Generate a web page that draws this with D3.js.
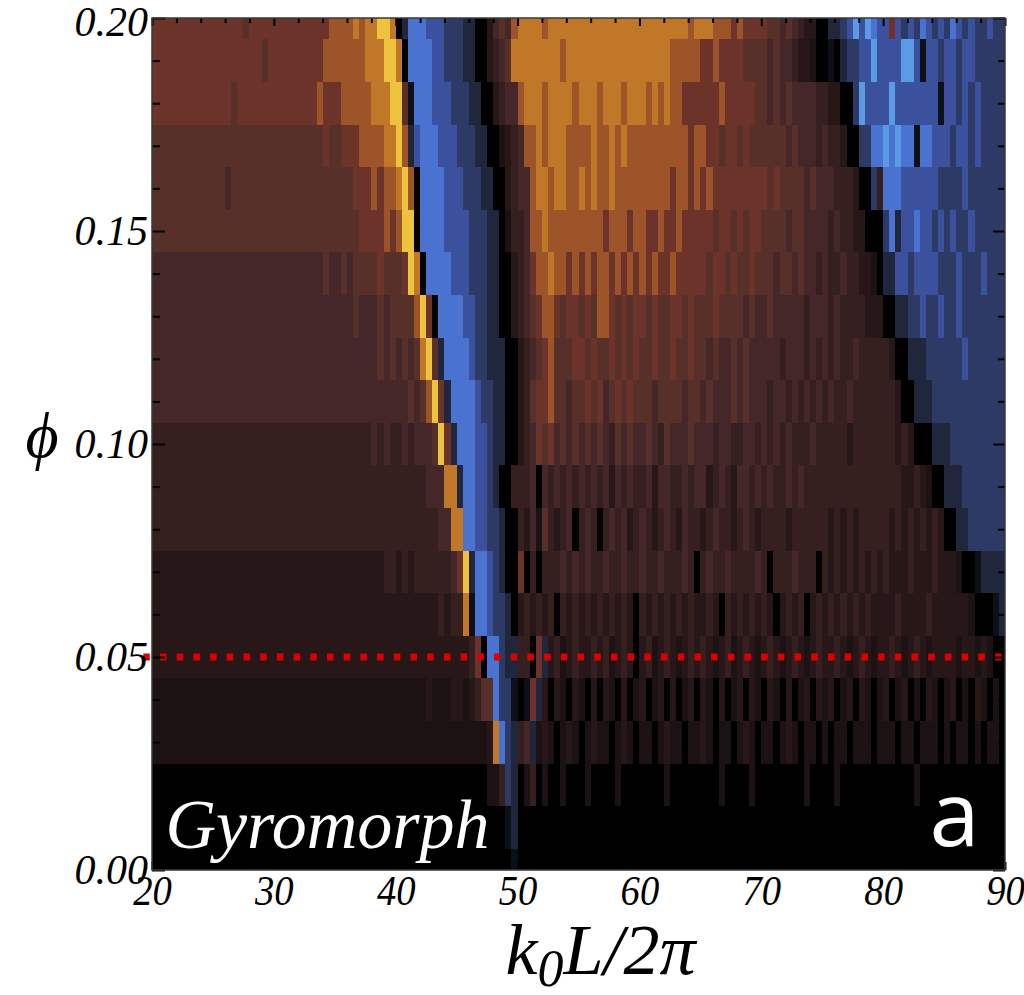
<!DOCTYPE html>
<html>
<head>
<meta charset="utf-8">
<script src="https://d3js.org/d3.v7.min.js"></script>
<style>
  html, body { margin: 0; background: #fff; }
  .narrow { transform-box: fill-box; transform-origin: 50% 50%; transform: scaleX(0.92); }
</style>
</head>
<body>
<svg id="chart" width="1024" height="995"></svg>
<script>
// phi of each row, top row first (each row is centred on its phi value)
const phiValues = [0.20, 0.19, 0.18, 0.17, 0.16, 0.15, 0.14, 0.13, 0.12, 0.11, 0.10,
                   0.09, 0.08, 0.07, 0.06, 0.05, 0.04, 0.03, 0.02, 0.01, 0.00];
// k0L/2pi of the first column, and column width
const kStart = 20;
const kStep = 0.5;
// levels, one char per column (groups of 5 units of k)
// 0 = black, 1..9 = brown -> orange -> yellow, a..f = navy -> light blue
const cellRows = [
  "6666666666 6666656666 6666666667 7778788998 0beeedddcc cbb0024547 8888788888 8888888888 8888888878 8877767666 6554543220 0bbcdfdfed d6dcdcedcd cedcdccdcc",
  "6666666666 6666666656 6666666677 7777788899 80eeeeddcc cbb0023458 8888888788 8888888888 8888877777 6676666555 5454432210 0a0bccddfd dddffdaddc ddcddccccc",
  "6666666666 6665666666 6666666766 6777778889 95aeeedddc ccbb002344 7888788887 8887888788 8787877666 6667666665 5454544443 32200cfddd dfddddddda ddcdcdcccc",
  "5555555555 5555555555 5555555565 5666777788 97bdeeeddd cccbb00123 4778788877 7787787877 7777777767 7665665655 5555454443 433200ccee fefeeaeedd dcddcdcccc",
  "5555555555 5545555555 5555555555 5556667677 8970eeeedd dcccbb0023 4478878877 8787787777 7777767767 6766666666 6565555454 44333200c3 eeeddddddc cccdcccccc",
  "5555555555 5555555555 5555555555 5555666676 7990eeeedd ddcccbb013 3477877777 7777677767 7667667666 6656656566 5555455444 4343322000 cebddeddcd cdccdccccc",
  "4444444444 4444444444 4444444454 4545555655 56980eeeed ddcccbb002 3467787767 6767767676 7676676666 6566565565 5545545443 4334332210 bbddcddddc ccdcccdccc",
  "4444444444 4444444444 4444444444 4445444545 5557960eee eddccbb002 3456776566 5657765656 6565566565 5565555454 4544444344 4343333222 00bbccdccd ccdccccccc",
  "4444444444 4444444444 4444444444 4444444545 4545895bee eedccbbb00 2345675556 6565565656 5565565565 5454454544 4443444343 4343343333 3200bbbccc cccdcccccc",
  "4444444444 4444444444 4444444444 4444444444 44545796be eeedccbb00 2356675545 5656456565 5545555455 4544454544 4344343434 3433433333 33200bbbcc cccccccccc",
  "3333333333 3333333333 3333333333 3333334343 343444596b eeeddcbb00 2346564545 4545435454 4543544454 4434433443 4343433343 3333233333 33232000bb bccccccccc",
  "3333333333 3333333333 3333333333 3333333333 3333344488 beeddcb003 3340434343 4343424343 3424433434 4234324434 3433434333 3333333333 3332232100 bbbccccccc",
  "3333333333 3333333333 3333333333 3333333333 3333333448 8eeddccb00 3241532340 3430343423 4323432433 2343323432 3333233333 3232323333 3232323232 00bbcccccc",
  "2222222222 2222222222 2222222222 2222222233 2323333334 69beedcb00 6030333434 3433433433 4334333430 3433433334 3033343330 3232323232 3222322232 22100abbbb",
  "2222222222 2222222222 2222222222 2222222222 2222222323 38aeedccb0 2323230323 2323232320 3232323232 2320323232 3202323023 2323232322 2232222322 22221000ab",
  "2222222222 2222222222 2222222222 2222222222 2222222222 22360eecbb 3306b23123 2232312320 2312321232 3212312321 2321232123 2232123212 2321232122 2212212100",
  "1111111111 1111111111 1111111111 1111111111 1111121112 212355ecca 0a6b202102 1020210201 2012020120 2102012021 0210201202 1201202101 2012010210 1201021010",
  "1111111111 1111111111 1111111111 1111111111 1111111111 1111128ecb 34b1210121 0121101210 1101211011 2101101210 1101210110 1011011101 1101101110 1011010110",
  "0000000000 0000000000 0000000000 0000000000 0000000000 00000113cb 0130100100 0100001000 0000100000 0001000010 0000000100 0010000000 0000010000 0000000000",
  "0000000000 0000000000 0000000000 0000000000 0000000000 00000000ab 0000000000 0000000000 0000000000 0000000000 0000000000 0000000000 0000000000 0000000000",
  "0000000000 0000000000 0000000000 0000000000 0000000000 000000000a 0000000000 0000000000 0000000000 0000000000 0000000000 0000000000 0000000000 0000000000"
];
const xTicks = [20, 30, 40, 50, 60, 70, 80, 90];
const yTicks = [0.00, 0.05, 0.10, 0.15, 0.20];
const markerPhi = 0.05;
const panelName = "Gyromorph";
const panelLetter = "a";

// colour map: negative = blue side, positive = orange side
const colorDomain = [-6, -5, -4, -3, -2, -1, 0, 1, 2, 3, 4, 5, 6, 7, 8, 9];
const colorRange = ['#5b9be6', '#4a72d0', '#3b519e', '#2e3a66', '#20263c', '#0e1018', '#000000',
                    '#1c1113', '#281719', '#35201f', '#45272a', '#573029', '#6b3329', '#9c5428', '#c07828', '#edc23d'];
const color = d3.scaleLinear().domain(colorDomain).range(colorRange);

const serif = '"Liberation Serif", "Times New Roman", serif';

function level(ch) {
  if (ch >= '0' && ch <= '9') return +ch;
  return -('abcdef'.indexOf(ch) + 1);
}

const svg = d3.select('#chart');
const plot = { left: 152, right: 1005, top: 18, bottom: 870 };

const x = d3.scaleLinear().domain([20, 90]).range([plot.left, plot.right]);
const y = d3.scaleLinear().domain([0, 0.2]).range([plot.bottom, plot.top]);
const halfRow = 0.005;

const cells = [];
cellRows.forEach((row, i) => {
  row.replace(/ /g, '').split('').forEach((ch, j) => {
    cells.push({ phi: phiValues[i], k: kStart + j * kStep, v: level(ch) });
  });
});

svg.append('clipPath').attr('id', 'plotClip')
  .append('rect')
  .attr('x', plot.left).attr('y', plot.top)
  .attr('width', plot.right - plot.left).attr('height', plot.bottom - plot.top);

svg.append('g')
  .attr('clip-path', 'url(#plotClip)')
  .attr('shape-rendering', 'crispEdges')
  .selectAll('rect')
  .data(cells)
  .join('rect')
    .attr('x', d => x(d.k))
    .attr('y', d => y(d.phi + halfRow))
    .attr('width', d => x(d.k + kStep) - x(d.k) + 0.6)
    .attr('height', d => y(d.phi - halfRow) - y(d.phi + halfRow) + 0.6)
    .attr('fill', d => color(d.v));

// red dotted marker line
svg.append('line')
  .attr('x1', x(20) - 8.7).attr('x2', x(90))
  .attr('y1', y(markerPhi)).attr('y2', y(markerPhi))
  .attr('stroke', '#dd0000')
  .attr('stroke-width', 7)
  .attr('stroke-dasharray', '6.5,10.2');

// panel labels
svg.append('text')
  .attr('x', x(21.1)).attr('y', 848)
  .attr('fill', '#fff')
  .attr('font-size', 70)
  .attr('font-style', 'italic')
  .style('font-family', serif)
  .text(panelName);

svg.append('text')
  .attr('x', x(87.9)).attr('y', 846)
  .attr('fill', '#fff')
  .attr('font-size', 90)
  .attr('text-anchor', 'end')
  .style('font-family', '"Open Sans", "DejaVu Sans", sans-serif')
  .text(panelLetter);

// ticks, drawn inside the frame on all four sides
function tickLayer(axis, transform, cls) {
  const g = svg.append('g').attr('transform', transform).call(axis);
  g.select('.domain').remove();
  g.selectAll('line').attr('stroke', '#000').attr('stroke-width', 2);
  g.selectAll('text')
    .attr('class', cls || null)
    .attr('font-size', 42)
    .attr('font-style', 'italic')
    .style('font-family', serif)
    .attr('fill', '#000');
  return g;
}

const xMinor = d3.range(20, 90.01, 2).filter(v => v % 10 !== 0);
const yMinor = d3.range(0, 0.2001, 0.01).filter((v, i) => i % 5 !== 0);

tickLayer(d3.axisBottom(x).tickValues(xMinor).tickSize(-5).tickFormat(''), `translate(0,${plot.bottom})`);
tickLayer(d3.axisTop(x).tickValues(xMinor).tickSize(-5).tickFormat(''), `translate(0,${plot.top})`);
tickLayer(d3.axisTop(x).tickValues(xTicks).tickSize(-8).tickFormat(''), `translate(0,${plot.top})`);
tickLayer(d3.axisBottom(x).tickValues(xTicks).tickSize(-8).tickPadding(5).tickFormat(d3.format('d')),
  `translate(0,${plot.bottom})`, 'narrow');

tickLayer(d3.axisLeft(y).tickValues(yMinor).tickSize(-8).tickFormat(''), `translate(${plot.left},0)`);
tickLayer(d3.axisRight(y).tickValues(yMinor).tickSize(-7).tickFormat(''), `translate(${plot.right},0)`);
tickLayer(d3.axisRight(y).tickValues(yTicks).tickSize(-12).tickFormat(''), `translate(${plot.right},0)`);
tickLayer(d3.axisLeft(y).tickValues(yTicks).tickSize(-13).tickPadding(4).tickFormat(d3.format('.2f')),
  `translate(${plot.left},0)`)
  .selectAll('text').filter(d => d === 0.2).attr('dy', '0.42em');

// frame
svg.append('rect')
  .attr('x', plot.left).attr('y', plot.top)
  .attr('width', plot.right - plot.left).attr('height', plot.bottom - plot.top)
  .attr('fill', 'none')
  .attr('stroke', '#3a3a3a')
  .attr('stroke-width', 1.5);

// axis titles
const xTitle = svg.append('text')
  .attr('x', (plot.left + plot.right) / 2 + 22).attr('y', 974)
  .attr('text-anchor', 'middle')
  .attr('font-size', 72)
  .attr('font-style', 'italic')
  .style('font-family', serif);
xTitle.append('tspan').text('k');
xTitle.append('tspan').attr('font-size', 52).attr('dy', 12).text('0');
xTitle.append('tspan').attr('dy', -12).text('L/2π');

svg.append('text')
  .attr('x', 42).attr('y', 457)
  .attr('text-anchor', 'middle')
  .attr('font-size', 64)
  .attr('font-style', 'italic')
  .style('font-family', serif)
  .text('ϕ');
</script>
</body>
</html>
